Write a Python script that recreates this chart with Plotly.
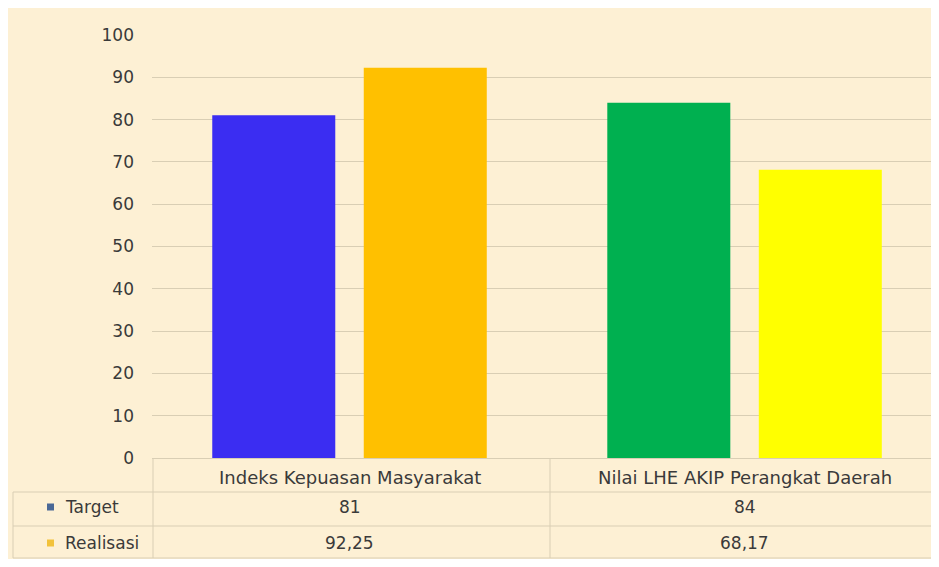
import plotly.graph_objects as go

categories = ["Indeks Kepuasan Masyarakat", "Nilai LHE AKIP Perangkat Daerah"]
target = [81, 84]
realisasi = [92.25, 68.17]
series_names = ["Target", "Realisasi"]
target_colors = ["#3b2df2", "#00b050"]
realisasi_colors = ["#ffc000", "#ffff00"]
legend_colors = ["#4a6896", "#f2c23a"]
y_ticks = [0, 10, 20, 30, 40, 50, 60, 70, 80, 90, 100]

# the page puts the figure 8px in from the window corner
W, H = 923, 551
L, R, T, B = 144, 923, 27, 450  # plot area in pixels
cream = "#fdf0d4"
line_col = "#d9ceb4"


def px(x):
    return (x - L) / (R - L)


def py(y):
    return (B - y) / (B - T)


def fmt(v):
    return str(int(v)) if float(v).is_integer() else f"{v:.2f}".replace(".", ",")


fig = go.Figure()
fig.add_trace(go.Bar(x=categories, y=target, name=series_names[0],
                     marker=dict(color=target_colors, line=dict(width=0))))
fig.add_trace(go.Bar(x=categories, y=realisasi, name=series_names[1],
                     marker=dict(color=realisasi_colors, line=dict(width=0))))


def hline(y, x0=5, x1=930):
    return dict(type="line", xref="paper", yref="paper", x0=px(x0), x1=px(x1), y0=py(y), y1=py(y),
                line=dict(color=line_col, width=1))


def vline(x, y0, y1):
    return dict(type="line", xref="paper", yref="paper", x0=px(x), x1=px(x), y0=py(y0), y1=py(y1),
                line=dict(color=line_col, width=1))


shapes = [hline(484), hline(518), hline(550),
          vline(5, 484, 550), vline(145, 450, 550), vline(542, 450, 550)]

font = dict(family="DejaVu Sans", size=17, color="#3a3a3a")
annotations = []
for c in categories:
    annotations.append(dict(x=c, xref="x", y=py(469), yref="paper", yanchor="middle",
                            text=c, showarrow=False, font=dict(font, size=18)))
rows = [target, realisasi]
row_y = [499, 535]
for name, vals, yy, col in zip(series_names, rows, row_y, legend_colors):
    shapes.append(dict(type="rect", xref="paper", yref="paper", x0=px(39), x1=px(46),
                       y0=py(yy - 3.5), y1=py(yy + 3.5), fillcolor=col, line=dict(width=0)))
    annotations.append(dict(x=px(55), xref="paper", y=py(yy), yref="paper", yanchor="middle",
                            text=name, showarrow=False, xanchor="left", font=font))
    for c, v in zip(categories, vals):
        annotations.append(dict(x=c, xref="x", y=py(yy), yref="paper", yanchor="middle",
                                text=fmt(v), showarrow=False, font=font))

fig.update_layout(
    width=W, height=H,
    margin=dict(l=L, r=W - R, t=T, b=H - B, pad=0),
    paper_bgcolor=cream,
    plot_bgcolor=cream,
    barmode="group",
    bargap=0.233,
    bargroupgap=0.188,
    showlegend=False,
    shapes=shapes,
    annotations=annotations,
    font=font,
    xaxis=dict(showticklabels=False, showgrid=False, zeroline=False, showline=False,
               range=[-0.5, 1.472]),
    yaxis=dict(range=[0, 100], tickvals=y_ticks, showgrid=True, gridcolor=line_col,
               gridwidth=1, zeroline=True, zerolinecolor=line_col, zerolinewidth=1,
               showline=False, ticklabelstandoff=17,
               tickfont=dict(family="DejaVu Sans", size=17, color="#3a3a3a")),
)

fig.write_html("out.html")
